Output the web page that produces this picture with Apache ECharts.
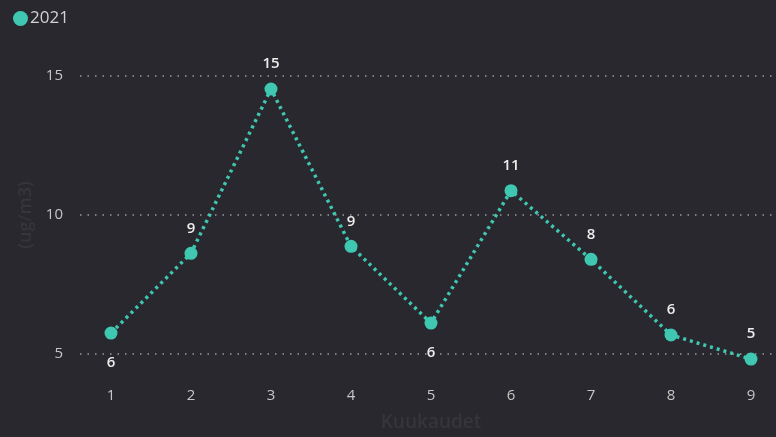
<!DOCTYPE html>
<html><head><meta charset="utf-8">
<script src="https://cdn.jsdelivr.net/npm/echarts@6/dist/echarts.min.js"></script>
<style>html,body{margin:0;padding:0;background:#29282e;}#c{width:776px;height:437px;}</style>
</head><body><div id="c"></div>
<script>
const months = ['1','2','3','4','5','6','7','8','9'];
const values2021 = [5.72, 8.6, 14.53, 8.85, 6.08, 10.86, 8.38, 5.65, 4.78];
const labelsBelow = [0, 4];
const yTicks = [5, 10, 15];
const seriesName = '2021';

const chart = echarts.init(document.getElementById('c'));
const font = '"Open Sans", "Noto Sans", sans-serif';
const seriesData = values2021.map((v, i) => ({
  value: v,
  label: labelsBelow.includes(i) ? {position: 'bottom', distance: 16} : undefined
}));
chart.setOption({
  backgroundColor: '#29282e',
  legend: {
    left: 8, top: 5, itemWidth: 15, itemHeight: 15, itemGap: 4,
    icon: 'circle',
    textStyle: {color: '#d2d2d2', fontSize: 17, fontFamily: font, padding: [0,0,0,-3]},
    data: [seriesName]
  },
  grid: [
    {left: 80, right: 0, top: 76, bottom: 83},
    {left: 111, right: 25, top: 76, bottom: 83}
  ],
  xAxis: [
    {gridIndex: 0, type: 'category', data: months, show: false},
    {gridIndex: 1, type: 'category', data: months, boundaryGap: false,
     axisLine: {show: false}, axisTick: {show: false},
     axisLabel: {color: '#c6c6c6', fontSize: 15, fontFamily: font, margin: 35},
     name: 'Kuukaudet', nameLocation: 'middle', nameGap: 60,
     nameTextStyle: {color: '#36353b', fontSize: 19, fontWeight: 600, fontFamily: font}}
  ],
  yAxis: [
    {gridIndex: 0, type: 'value', min: yTicks[0], max: yTicks[yTicks.length-1], interval: 5,
     axisLine: {show: false}, axisTick: {show: false},
     axisLabel: {color: '#c6c6c6', fontSize: 15, fontFamily: font, margin: 17},
     splitLine: {show: true, lineStyle: {color: '#9a9a9a', type: [1.5, 6], width: 1.5}},
     name: '(ug/m3)', nameLocation: 'middle', nameGap: 44,
     nameTextStyle: {color: '#36353b', fontSize: 18, fontWeight: 600, fontFamily: font}},
    {gridIndex: 1, type: 'value', min: yTicks[0], max: yTicks[yTicks.length-1], show: false,
     splitLine: {show: false}}
  ],
  series: [{
    name: seriesName, type: 'line', xAxisIndex: 1, yAxisIndex: 1,
    data: seriesData, clip: false,
    symbol: 'circle', symbolSize: 13,
    itemStyle: {color: '#3fc7b2'},
    lineStyle: {color: '#3fc7b2', width: 3.5, type: [3, 4]},
    label: {show: true, position: 'top', distance: 11, color: '#ececec', fontSize: 15,
            fontWeight: 600, fontFamily: font,
            formatter: p => Math.round(p.value)},
    animation: false
  }],
  animation: false
});
</script></body></html>
